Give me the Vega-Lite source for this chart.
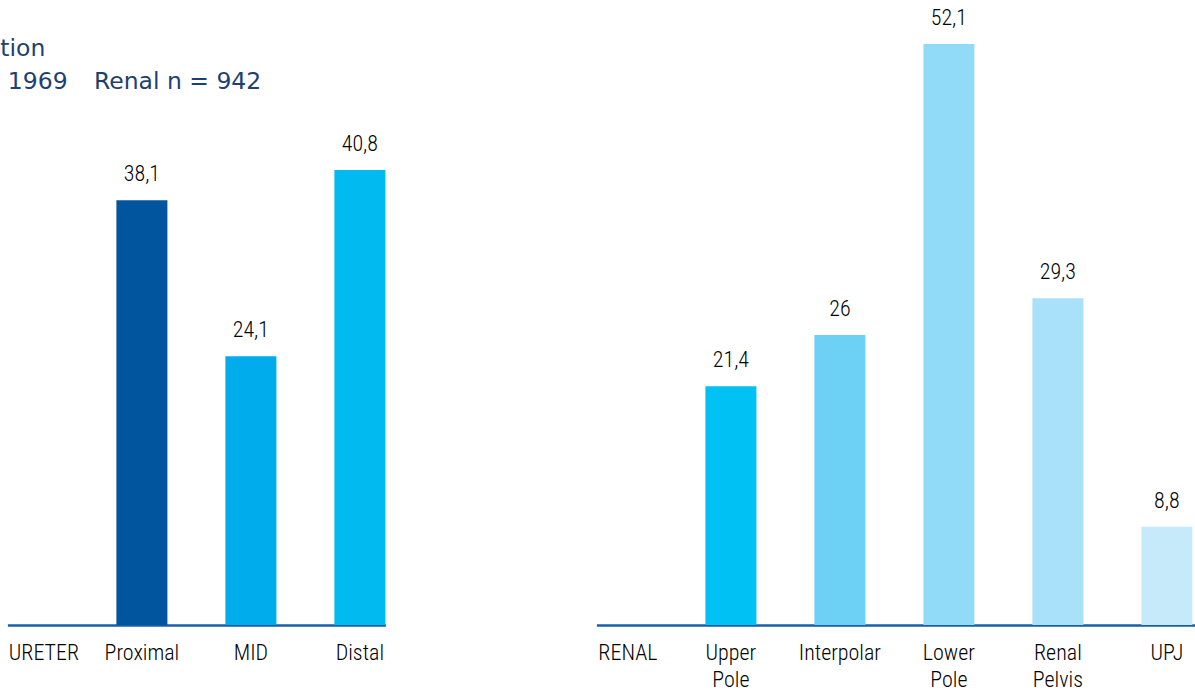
{
  "$schema": "https://vega.github.io/schema/vega-lite/v6.json",
  "autosize": {"type": "pad"},
  "padding": {"left": -123.6, "top": 0, "right": 0, "bottom": 0},
  "bounds": "flush",
  "spacing": 211,
  "background": "white",
  "resolve": {"scale": {"color": "independent"}},
  "config": {
    "view": {"stroke": null},
    "locale": {"number": {"decimal": ",", "thousands": ".", "grouping": [3], "currency": ["", " €"]}},
    "axisX": {
      "domainColor": "#1A5EA6",
      "domainWidth": 2.5,
      "ticks": false,
      "grid": false,
      "labelFont": "Roboto Condensed, Liberation Sans Narrow, DejaVu Sans Condensed, sans-serif",
      "labelFontSize": 22,
      "labelFontWeight": 300,
      "labelColor": "#000000",
      "labelPadding": 18,
      "labelLineHeight": 27,
      "labelAngle": 0,
      "labelOverlap": false,
      "labelLimit": 0,
      "title": null
    }
  },
  "datasets": {
    "ureter": [
      {"location": "Proximal", "percent": 38.1},
      {"location": "MID", "percent": 24.1},
      {"location": "Distal", "percent": 40.8}
    ],
    "renal": [
      {"location": "Upper Pole", "percent": 21.4},
      {"location": "Interpolar", "percent": 26},
      {"location": "Lower Pole", "percent": 52.1},
      {"location": "Renal Pelvis", "percent": 29.3},
      {"location": "UPJ", "percent": 8.8}
    ]
  },
  "hconcat": [
    {
      "width": 378,
      "height": 625,
      "title": {
        "text": "Stone location",
        "subtitle": "Ureter n = 1969\u00a0\u00a0\u00a0\u2006Renal n = 942",
        "anchor": "start",
        "frame": "group",
        "dx": -130.6,
        "offset": -93,
        "font": "DejaVu Sans",
        "fontSize": 23.5,
        "fontWeight": "normal",
        "color": "#1E3F73",
        "subtitleFont": "DejaVu Sans",
        "subtitleFontSize": 23.5,
        "subtitleColor": "#1E3F73",
        "subtitlePadding": 9
      },
      "data": {"name": "ureter"},
      "encoding": {
        "x": {
          "field": "location",
          "type": "nominal",
          "sort": null,
          "scale": {"domain": ["URETER", "Proximal", "MID", "Distal"], "paddingInner": 0.532, "paddingOuter": 0},
          "axis": {
            "labelExpr": "split(datum.label, ' ')",
            "labelOffset": {"condition": {"test": "datum.value == 'URETER'", "value": 11}, "value": 0}
          }
        },
        "y": {"field": "percent", "type": "quantitative", "scale": {"domain": [0, 56.05]}, "axis": null}
      },
      "layer": [
        {
          "mark": {"type": "bar"},
          "encoding": {
            "color": {
              "field": "location",
              "type": "nominal",
              "scale": {"domain": ["Proximal", "MID", "Distal"], "range": ["#00559E", "#00ACEB", "#00BAF0"]},
              "legend": null
            }
          }
        },
        {
          "mark": {"type": "text", "baseline": "alphabetic", "dy": -19, "font": "Roboto Condensed, Liberation Sans Narrow, DejaVu Sans Condensed, sans-serif", "fontSize": 22, "fontWeight": 300, "color": "#000000"},
          "encoding": {"text": {"field": "percent", "type": "quantitative", "format": ".1~f"}}
        }
      ]
    },
    {
      "width": 600,
      "height": 625,
      "data": {"name": "renal"},
      "encoding": {
        "x": {
          "field": "location",
          "type": "nominal",
          "sort": null,
          "scale": {"domain": ["RENAL", "Upper Pole", "Interpolar", "Lower Pole", "Renal Pelvis", "UPJ"], "paddingInner": 0.532, "paddingOuter": 0.0183, "align": 0},
          "axis": {
            "labelExpr": "split(datum.label, ' ')",
            "labelOffset": {"condition": {"test": "datum.value == 'RENAL'", "value": 6}, "value": 0}
          }
        },
        "y": {"field": "percent", "type": "quantitative", "scale": {"domain": [0, 56.05]}, "axis": null}
      },
      "layer": [
        {
          "mark": {"type": "bar"},
          "encoding": {
            "color": {
              "field": "location",
              "type": "nominal",
              "scale": {"domain": ["Upper Pole", "Interpolar", "Lower Pole", "Renal Pelvis", "UPJ"], "range": ["#00C1F3", "#6DD0F5", "#92DBF8", "#A9E1FA", "#C6EAFA"]},
              "legend": null
            }
          }
        },
        {
          "mark": {"type": "text", "baseline": "alphabetic", "dy": -19, "font": "Roboto Condensed, Liberation Sans Narrow, DejaVu Sans Condensed, sans-serif", "fontSize": 22, "fontWeight": 300, "color": "#000000"},
          "encoding": {"text": {"field": "percent", "type": "quantitative", "format": ".1~f"}}
        }
      ]
    }
  ]
}
